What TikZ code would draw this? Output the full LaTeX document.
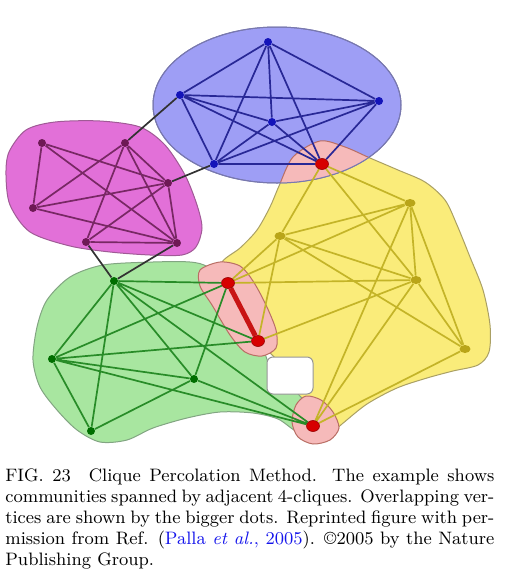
\documentclass[tikz,border=0pt]{standalone}
\usetikzlibrary{shapes.geometric}
\pgfdeclarelayer{bg}
\pgfsetlayers{bg,main}
\definecolor{hullY}{RGB}{250,236,122}
\definecolor{hullG}{RGB}{168,230,160}
\definecolor{hullB}{RGB}{158,158,245}
\definecolor{hullM}{RGB}{226,112,216}
\definecolor{hullP}{RGB}{246,186,186}
\definecolor{lineY}{RGB}{170,160,100}
\definecolor{lineG}{RGB}{130,165,130}
\definecolor{lineB}{RGB}{120,120,175}
\definecolor{lineM}{RGB}{160,90,150}
\definecolor{lineP}{RGB}{185,110,100}
\definecolor{lineN}{RGB}{150,150,150}
\definecolor{nodeB}{RGB}{20,20,185}
\definecolor{nodeM}{RGB}{110,25,85}
\definecolor{nodeG}{RGB}{0,110,0}
\definecolor{nodeY}{RGB}{185,165,25}
\definecolor{nodeR}{RGB}{215,0,0}
\definecolor{nodeRd}{RGB}{150,0,0}
\definecolor{edgeB}{RGB}{40,40,150}
\definecolor{edgeM}{RGB}{120,40,100}
\definecolor{edgeG}{RGB}{40,140,40}
\definecolor{edgeY}{RGB}{196,180,40}
\definecolor{edgeK}{RGB}{50,50,50}
\definecolor{edgeR}{RGB}{200,20,20}
\definecolor{citeblue}{RGB}{20,20,235}
\begin{document}
\begin{tikzpicture}[x=0.5pt,y=-0.5pt,
  bnode/.style={circle,fill=nodeB,inner sep=0pt,minimum size=4pt},
  mnode/.style={circle,fill=nodeM,inner sep=0pt,minimum size=4pt},
  gnode/.style={circle,fill=nodeG,inner sep=0pt,minimum size=4pt},
  ynode/.style={ellipse,fill=nodeY,inner sep=0pt,minimum width=5.5pt,minimum height=4pt},
  rnode/.style={ellipse,fill=nodeR,draw=nodeRd,line width=0.3pt,inner sep=0pt,minimum width=6.5pt,minimum height=5.5pt},
  bedge/.style={draw=edgeB,line width=0.85pt},
  medge/.style={draw=edgeM,line width=0.85pt},
  gedge/.style={draw=edgeG,line width=0.85pt},
  yedge/.style={draw=edgeY,line width=0.85pt},
  kedge/.style={draw=edgeK,line width=0.85pt},
  redge/.style={draw=edgeR,line width=2.5pt},
  hull/.style={line width=0.5pt},
  capline/.style={anchor=base west,inner sep=0pt,font=\fontsize{9}{10.5}\selectfont}]
\useasboundingbox (0,0) rectangle (521,579);
% nodes
\node[bnode] (B1) at (268,42) {};
\node[bnode] (B2) at (180,95) {};
\node[bnode] (B3) at (379,101) {};
\node[bnode] (B4) at (272,122) {};
\node[bnode] (B5) at (214,164) {};
\node[rnode] (R1) at (322,164) {};
\node[mnode] (M1) at (42,143) {};
\node[mnode] (M2) at (125,143) {};
\node[mnode] (M3) at (168,183) {};
\node[mnode] (M4) at (33,208) {};
\node[mnode] (M5) at (86,242) {};
\node[mnode] (M6) at (177,243) {};
\node[gnode] (G1) at (114,281) {};
\node[gnode] (G2) at (52,359) {};
\node[gnode] (G3) at (194,379) {};
\node[gnode] (G4) at (91,431) {};
\node[rnode] (R2) at (228,283) {};
\node[rnode] (R3) at (258,341) {};
\node[rnode] (R4) at (313,426) {};
\node[ynode] (Y1) at (410,203) {};
\node[ynode] (Y2) at (280,236) {};
\node[ynode] (Y3) at (416,280) {};
\node[ynode] (Y4) at (465,349) {};
\begin{pgfonlayer}{bg}
\def\yellowpath{plot[smooth cycle] coordinates {(222,262) (240,248) (257,230) (270,207) (279,186) (293,157) (320,141) (345,147) (370,158) (398,170) (425,182) (445,200) (457,225) (470,257) (483,290) (490,325) (489,352) (478,365) (453,371) (427,378) (397,388) (367,404) (342,424) (325,438) (305,430) (300,405) (290,375) (262,345) (235,320) (215,285)}}
\def\greenpath{plot[smooth cycle] coordinates {(153,262) (190,262) (208,267) (228,285) (252,318) (262,345) (272,370) (292,388) (310,408) (315,428) (298,432) (278,419) (253,413) (220,412) (187,418) (153,428) (127,440) (100,442) (77,430) (57,410) (40,387) (33,360) (37,327) (47,300) (70,277) (103,265)}}
\def\magentapath{plot[smooth cycle] coordinates {(9,152) (26,130) (55,122) (100,121) (140,127) (165,145) (185,175) (197,205) (202,228) (196,247) (182,255) (150,255) (110,252) (70,246) (30,232) (10,205) (6,175)}}
\def\bluepath{(277,105) ellipse [x radius=124, y radius=78]}
\fill[hullY,draw=lineY,hull] \yellowpath;
\fill[hullG,draw=lineG,hull] \greenpath;
\fill[hullM,draw=lineM,hull] \magentapath;
\fill[hullB,draw=lineB,hull] \bluepath;
\begin{scope}
  \clip \bluepath;
  \fill[hullP,draw=lineP,hull] \yellowpath;
\end{scope}
\draw[lineB,hull] \bluepath;
% pink overlap around R2-R3
\fill[hullP,draw=lineP,hull] plot[smooth cycle] coordinates {(200,270) (220,262) (240,266) (253,281) (266,305) (276,330) (276,348) (262,356) (245,352) (230,335) (212,305) (200,286)};
% pink overlap around R4
\fill[hullP,draw=lineP,hull] plot[smooth cycle] coordinates {(296,405) (306,396) (321,400) (333,412) (339,428) (330,440) (313,444) (298,437) (292,422)};
% white notch
\fill[white,draw=lineN,hull,rounded corners=3pt] (267,357) rectangle (313,394);
% blue edges
\draw[bedge] (B1)--(B2) (B1)--(B3) (B1)--(B4) (B1)--(B5) (B1)--(R1)
  (B2)--(B3) (B2)--(B4) (B2)--(B5) (B2)--(R1)
  (B3)--(B4) (B3)--(B5) (B3)--(R1)
  (B4)--(B5) (B4)--(R1) (B5)--(R1);
% magenta edges
\draw[medge] (M1)--(M3) (M1)--(M4) (M1)--(M6)
  (M2)--(M3) (M2)--(M4) (M2)--(M5) (M2)--(M6)
  (M3)--(M4) (M3)--(M5) (M3)--(M6) (M4)--(M6) (M5)--(M6);
% green edges
\draw[gedge] (G1)--(R2) (G1)--(R3) (G1)--(R4) (G1)--(G3) (G1)--(G4) (G1)--(G2)
  (G2)--(R2) (G2)--(R3) (G2)--(G3) (G2)--(G4) (G2)--(R4)
  (G3)--(R2) (G3)--(G4) (G3)--(R4);
% yellow edges
\draw[yedge] (R1)--(Y1) (R1)--(Y2) (R1)--(Y3)
  (Y1)--(Y2) (Y1)--(Y3) (Y1)--(Y4) (Y1)--(R2) (Y1)--(R4)
  (Y2)--(Y3) (Y2)--(Y4) (Y2)--(R2) (Y2)--(R3)
  (Y3)--(Y4) (Y3)--(R2) (Y3)--(R3) (Y3)--(R4) (Y4)--(R4);
% connecting edges
\draw[kedge] (M2)--(B2) (M3)--(B5) (M5)--(G1) (M6)--(G1);
\draw[redge] (R2)--(R3);
\end{pgfonlayer}
% caption
\node[capline] (c1) at (5,481) {\makebox[244.5pt][s]{FIG. 23\quad Clique Percolation Method. The example shows}};
\node[capline] (c2) at (5,502) {\makebox[244.5pt][s]{communities spanned by adjacent 4-cliques. Overlapping ver-}};
\node[capline] (c3) at (5,523) {\makebox[244.5pt][s]{tices are shown by the bigger dots. Reprinted figure with per-}};
\node[capline] (c4) at (5,544) {\makebox[244.5pt][s]{mission from Ref. (\textcolor{citeblue}{Palla \textit{et al.}, 2005}). \copyright2005 by the Nature}};
\node[capline] (c5) at (5,565) {Publishing Group.};
\end{tikzpicture}
\end{document}
